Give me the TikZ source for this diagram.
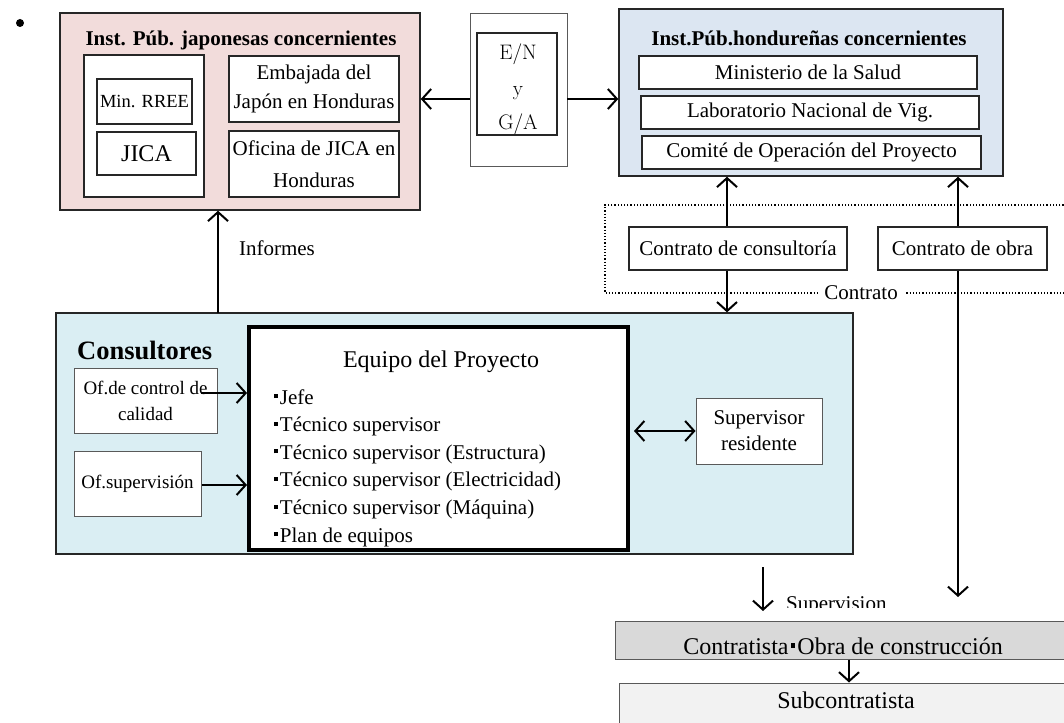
\documentclass[tikz,border=0pt]{standalone}
\usepackage{fontspec}
\newfontfamily\tms{Liberation Serif}
\usetikzlibrary{arrows.meta}
\definecolor{jpfill}{HTML}{F2DCDB}
\definecolor{hnfill}{HTML}{DCE6F2}
\definecolor{csfill}{HTML}{DAEEF3}
\definecolor{ctfill}{HTML}{D9D9D9}
\definecolor{sbfill}{HTML}{F2F2F2}
\definecolor{edge}{HTML}{262626}
\definecolor{lightedge}{HTML}{595959}
\newcommand\sqd{\hspace{0.08em}\rule[0.28em]{0.19em}{0.19em}\hspace{0.1em}}
\newcommand\fsz[2]{\fontsize{#1}{#2}\selectfont}
\begin{document}
\begin{tikzpicture}[x=1pt,y=-1pt,
  txt/.style={font=\tms\fsz{21}{26}, inner sep=0},
  box/.style={draw=edge, line width=1.3pt, fill=white, inner sep=0, align=center, font=\tms\fsz{21}{26}},
  thinbox/.style={box, draw=lightedge, line width=1pt},
  arr/.style={-{Straight Barb[length=9pt,width=20pt]}, line width=2pt},
  darr/.style={{Straight Barb[length=9pt,width=20pt]}-{Straight Barb[length=9pt,width=20pt]}, line width=2pt},
  dotline/.style={dotted, line width=1.2pt},
  entxt/.style={font=\rmfamily\fsz{21}{26}, inner sep=0, anchor=base},
]
\useasboundingbox (0,0) rectangle (1064,722);
\clip (0,0) rectangle (1064,722);

\node[circle, fill=black, inner sep=0, minimum size=8pt] (bul) at (20,23) {};

% Japanese institutions
\node[box, fill=jpfill, line width=1.5pt, minimum width=360pt, minimum height=197pt] (jp) at (240,111.5) {};
\node[txt, font=\tms\bfseries\fsz{21}{26}] (jpt) at (241,40) {Inst. Púb. japonesas concernientes};
\node[box, minimum width=120pt, minimum height=142pt] (jpl) at (144,126) {};
\node[box, minimum width=95pt, minimum height=45pt, font=\tms\fsz{18.5}{22}] (minr) at (144.5,101.5) {Min. RREE};
\node[box, minimum width=99pt, minimum height=43pt, font=\tms\fsz{24}{28}] (jica) at (146.5,153.5) {JICA};
\node[box, minimum width=170pt, minimum height=66pt, font=\tms\fsz{21}{29}] (emb) at (314,89) {Embajada del\\Japón en Honduras};
\node[box, minimum width=170pt, minimum height=66pt, font=\tms\fsz{21}{32}] (ofi) at (314,164) {Oficina de JICA en\\Honduras};

% E/N y G/A
\node[draw=lightedge, line width=0.8pt, fill=white, minimum width=97pt, minimum height=153pt, inner sep=0] (en) at (518.5,89.5) {};
\node[draw=edge, line width=1.3pt, minimum width=80pt, minimum height=102pt, inner sep=0] (eni) at (517,84) {};
\node[entxt] (en1) at (518,60) {E/N};
\node[entxt] (en2) at (518,96) {y};
\node[entxt] (en3) at (518,130) {G/A};

% Honduran institutions
\node[box, fill=hnfill, line width=1.5pt, minimum width=384pt, minimum height=167pt] (hond) at (811,92.5) {};
\node[txt, font=\tms\bfseries\fsz{21}{26}] (hondt) at (809,38) {Inst.Púb.hondureñas concernientes};
\node[box, minimum width=338pt, minimum height=33pt] (mins) at (808,72.5) {Ministerio de la Salud};
\node[box, minimum width=338pt, minimum height=33pt] (lab) at (810,112.5) {Laboratorio Nacional de Vig.};
\node[box, minimum width=339pt, minimum height=33pt] (com) at (811.5,152.5) {Comité de Operación del Proyecto};

% Contract area
\draw[dotline] (1070,205) -- (605,205) -- (605,293) -- (1070,293);
\node[txt, fill=white, inner xsep=6pt, inner ysep=2pt] (contr) at (861,293) {Contrato};
\node[box, minimum width=218pt, minimum height=43pt] (cc) at (738,248.5) {Contrato de consultoría};
\node[box, minimum width=169pt, minimum height=43pt] (co) at (962.5,248.5) {Contrato de obra};

% Consultants
\node[draw=edge, line width=1.3pt, fill=csfill, minimum width=797pt, minimum height=241pt, inner sep=0] (cons) at (454.5,433.5) {};
\node[txt, font=\tms\bfseries\fsz{26.5}{30}, anchor=west] (const) at (77,350) {Consultores};
\node[thinbox, minimum width=143pt, minimum height=65pt, font=\tms\fsz{19}{26}] (ofc) at (145.5,400.5) {Of.de control de\\calidad};
\node[thinbox, minimum width=127pt, minimum height=65pt, font=\tms\fsz{19}{26}] (ofs) at (137.5,483.5) {Of.supervisión};
\node[draw=black, line width=4pt, fill=white, minimum width=379pt, minimum height=223pt, inner sep=0] (proj) at (438.5,438.5) {};
\node[txt, font=\tms\fsz{24}{28}] (projt) at (441,362) {Equipo del Proyecto};
\node[txt, anchor=base west] (p1) at (272,404) {\sqd Jefe};
\node[txt, anchor=base west] (p2) at (272,431.6) {\sqd Técnico supervisor};
\node[txt, anchor=base west] (p3) at (272,459.2) {\sqd Técnico supervisor (Estructura)};
\node[txt, anchor=base west] (p4) at (272,486.8) {\sqd Técnico supervisor (Electricidad)};
\node[txt, anchor=base west] (p5) at (272,514.4) {\sqd Técnico supervisor (Máquina)};
\node[txt, anchor=base west] (p6) at (272,542) {\sqd Plan de equipos};
\node[thinbox, minimum width=126pt, minimum height=66pt] (sup) at (759,431) {Supervisor\\residente};

% Contractors
\node[draw=lightedge, line width=1pt, fill=ctfill, minimum width=457pt, minimum height=38pt, inner sep=0] (ctr) at (843.5,640) {};
\node[txt, font=\tms\fsz{24}{28}] (ctrt) at (843,646) {Contratista\sqd Obra de construcción};
\node[draw=lightedge, line width=1pt, fill=sbfill, minimum width=453pt, minimum height=60pt, inner sep=0] (sub) at (845.5,713) {};
\node[txt, font=\tms\fsz{24}{28}] (subt) at (846,700) {Subcontratista};

% Labels
\node[txt] (inft) at (277,248) {Informes};
\begin{scope}
  \clip (780,580) rectangle (900,607.5);
  \node[txt, anchor=base west] (supt) at (786,610) {Supervision};
\end{scope}

% Connectors
\coordinate (infs) at (218,313);
\draw[arr] (infs) -- (infs |- jp.south);
\draw[arr] ([yshift=-9.5pt]en.west) -- ([yshift=-9.5pt]en.west -| jp.east);
\draw[arr] ([yshift=-9.5pt]en.east) -- ([yshift=-9.5pt]en.east -| hond.west);
\draw[arr] ([xshift=-11pt]cc.north) -- ([xshift=-11pt]cc.north |- hond.south);
\draw[arr] ([xshift=-11pt]cc.south) -- ([xshift=-11pt]cc.south |- cons.north);
\draw[arr] ([xshift=-4.5pt]co.north) -- ([xshift=-4.5pt]co.north |- hond.south);
\coordinate (obraend) at (958,597);
\draw[arr] ([xshift=-4.5pt]co.south) -- (obraend);
\coordinate (ofcs) at (201,393);
\draw[arr] (ofcs) -- (ofcs -| proj.west);
\draw[arr] ([yshift=-1.5pt]ofs.east) -- ([yshift=-1.5pt]ofs.east -| proj.west);
\draw[darr, shorten <=4pt] (proj.east |- sup.west) -- (sup.west);
\coordinate (supa) at (763,567);
\coordinate (supb) at (763,611);
\draw[arr] (supa) -- (supb);
\draw[arr] ([xshift=5.5pt]ctr.south) -- ([xshift=5.5pt]ctr.south |- sub.north);
\end{tikzpicture}
\end{document}
